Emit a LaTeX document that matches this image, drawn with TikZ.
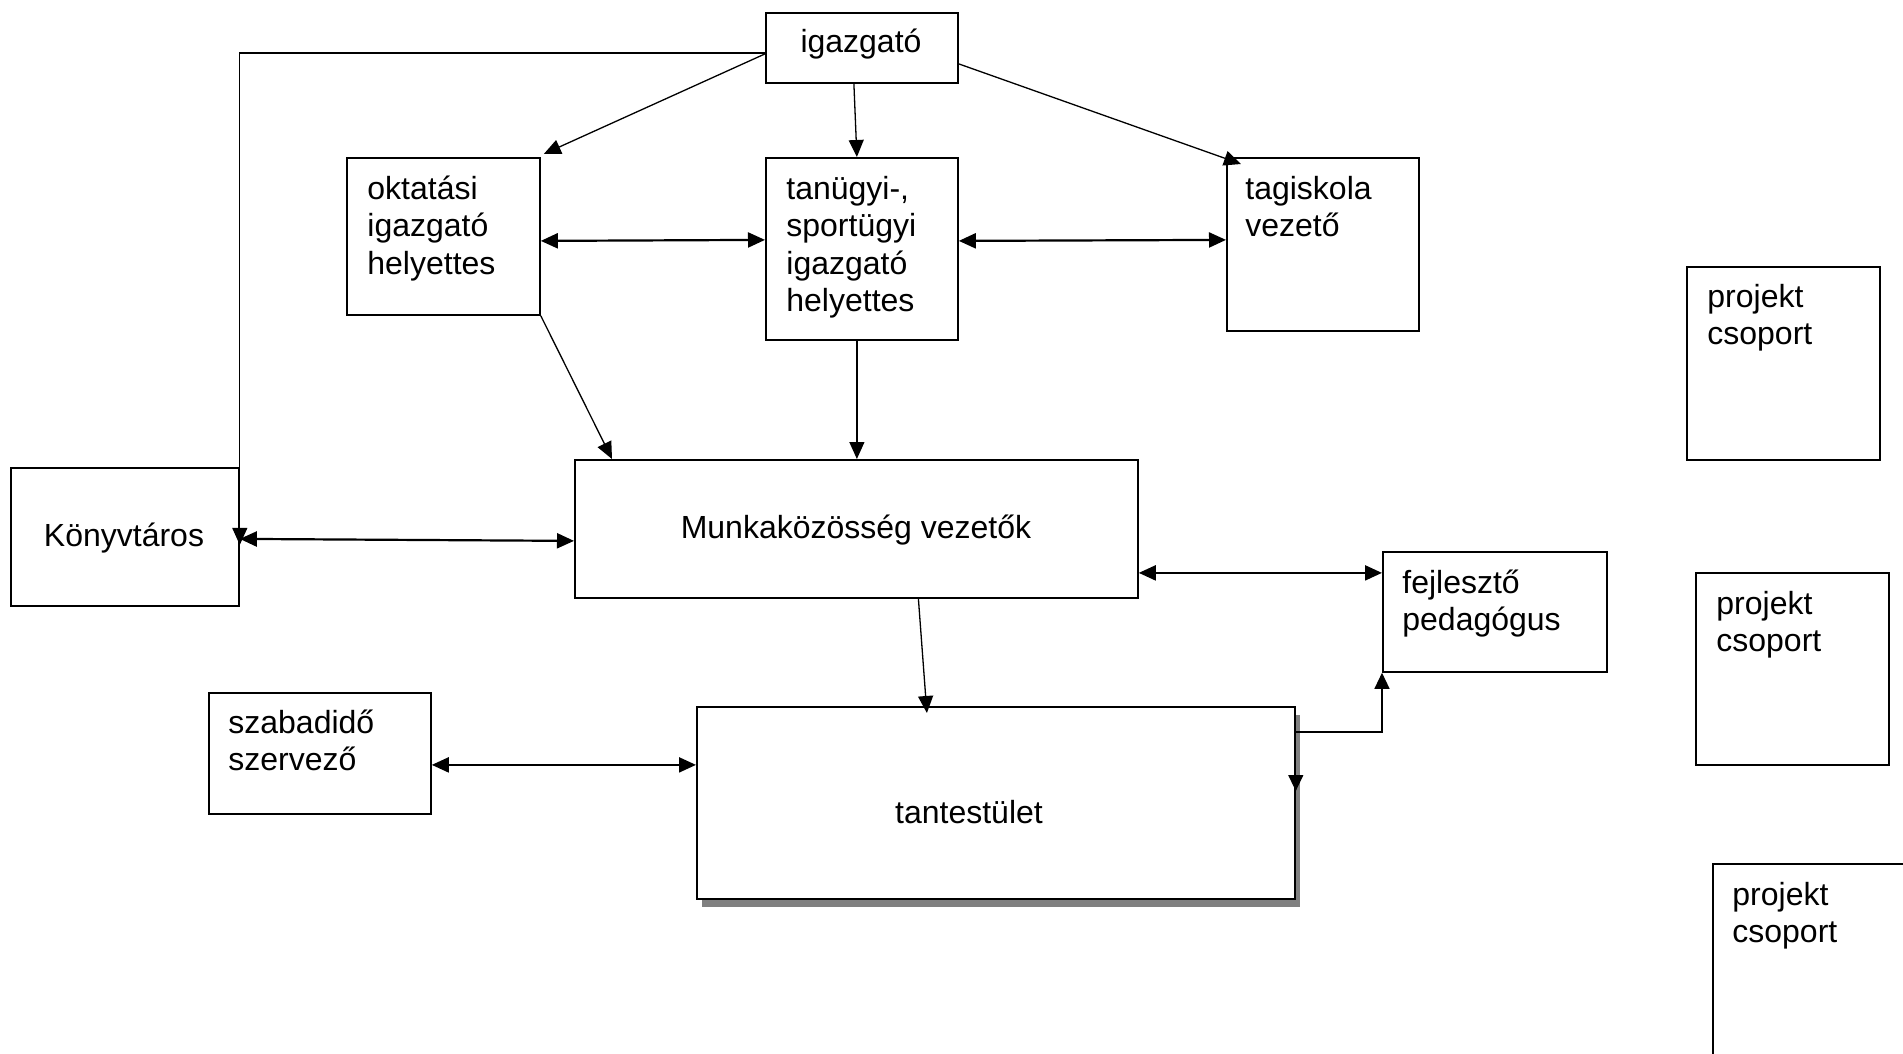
\documentclass[tikz,border=0pt]{standalone}
\usepackage{fontspec}
\setmainfont{Liberation Sans}
\usetikzlibrary{arrows.meta,shadows}
\newcommand{\mytab}[1]{\begin{tabular}[t]{@{}l@{}}#1\end{tabular}}
\begin{document}
\begin{tikzpicture}[x=0.5pt,y=-0.5pt,
  box/.style={draw, line width=0.9pt, fill=white, inner sep=0pt, anchor=north west},
  txt/.style={font=\fontsize{16pt}{18.75pt}\selectfont, inner sep=0pt},
  arr/.style={line width=0.65pt, -{Triangle[length=8.5pt,width=7.5pt]}},
  darr/.style={line width=1.1pt, {Triangle[length=8.5pt,width=7.5pt]}-{Triangle[length=8.5pt,width=7.5pt]}},
  sarr/.style={line width=0.65pt, {Triangle[length=8pt,width=7.5pt]}-{Triangle[length=8pt,width=7.5pt]}},
]
\fill[white] (0,0) rectangle (1903,1054);
\useasboundingbox (0,0) rectangle (1903,1054);

% boxes
\node[box, minimum width=96pt, minimum height=35pt] (igaz) at (765,12) {};
\node[box, minimum width=96.5pt, minimum height=78.5pt] (okt) at (346,157) {};
\node[box, minimum width=96pt, minimum height=91pt] (tan) at (765,157) {};
\node[box, minimum width=96pt, minimum height=86.5pt] (tag) at (1226,157) {};
\node[box, minimum width=96.5pt, minimum height=96.5pt] (proj1) at (1686,266) {};
\node[box, minimum width=114pt, minimum height=69pt] (konyv) at (10,467) {};
\node[box, minimum width=281.5pt, minimum height=69pt] (munka) at (574,459) {};
\node[box, minimum width=112pt, minimum height=60pt] (fejl) at (1382,551) {};
\node[box, minimum width=96.5pt, minimum height=96pt] (proj2) at (1695,572) {};
\node[box, minimum width=111pt, minimum height=60.5pt] (szab) at (208,692) {};
\node[box, minimum width=299pt, minimum height=96pt,
      drop shadow={shadow xshift=2.5pt, shadow yshift=-4pt, fill=gray, opacity=1}] (tant) at (696,706) {};
\node[box, minimum width=96.5pt, minimum height=100pt] (proj3) at (1712,863) {};

% texts
\node[txt, anchor=base] (igazT) at (861,53) {igazgató};
\node[txt, anchor=base west] (oktT) at (367,199) {\mytab{oktatási\\igazgató\\helyettes}};
\node[txt, anchor=base west] (tanT) at (786,199) {\mytab{tanügyi-,\\sportügyi\\igazgató\\helyettes}};
\node[txt, anchor=base west] (tagT) at (1245,199) {\mytab{tagiskola\\vezető}};
\node[txt, anchor=base west] (proj1T) at (1707,307) {\mytab{projekt\\csoport}};
\node[txt, anchor=base] (konyvT) at (124,546) {Könyvtáros};
\node[txt, anchor=base] (munkaT) at (856,538) {Munkaközösség vezetők};
\node[txt, anchor=base west] (fejlT) at (1402,593) {\mytab{fejlesztő\\pedagógus}};
\node[txt, anchor=base west] (proj2T) at (1716,614) {\mytab{projekt\\csoport}};
\node[txt, anchor=base west] (szabT) at (228,733) {\mytab{szabadidő\\szervező}};
\node[txt, anchor=base] (tantT) at (969,823) {tantestület};
\node[txt, anchor=base west] (proj3T) at (1732,905) {\mytab{projekt\\csoport}};

% connectors
\draw[arr] ([yshift=-2.5pt]igaz.west) -| ([yshift=-4pt]konyv.east);
\draw[arr] ([yshift=-3pt]igaz.west) -- ([xshift=1.5pt,yshift=1.5pt]okt.north east);
\draw[arr] ([xshift=-4pt]igaz.south) -- ([xshift=-2.5pt]tan.north);
\draw[arr] ([yshift=-8pt]igaz.east) -- ([xshift=7.5pt,yshift=-3.5pt]tag.north west);
\draw[darr] ([yshift=-2.25pt]okt.east) -- ([yshift=4.5pt]tan.west);
\draw[darr] ([yshift=4pt]tan.east) -- ([yshift=2.25pt]tag.west);
\draw[arr] (okt.south east) -- ([xshift=19pt]munka.north west);
\draw[arr] ([xshift=-2.5pt]tan.south) -- ([xshift=-2.5pt]tan.south |- munka.north);
\draw[darr] ([yshift=-1pt]konyv.east) -- ([yshift=-6pt]munka.west);
\draw[darr] ([yshift=-22pt]munka.east) -- ([yshift=-22pt]munka.east -| fejl.west);
\draw[arr] ([xshift=31pt]munka.south) -- ([xshift=-34.5pt,yshift=-3.5pt]tant.north);
\draw[darr] ([yshift=-5.75pt]szab.east) -- ([yshift=-5.75pt]szab.east -| tant.west);
\draw[sarr] ([yshift=-42.5pt]tant.north east) -- ([yshift=-13pt]tant.north east) -| (fejl.south west);
\end{tikzpicture}
\end{document}
